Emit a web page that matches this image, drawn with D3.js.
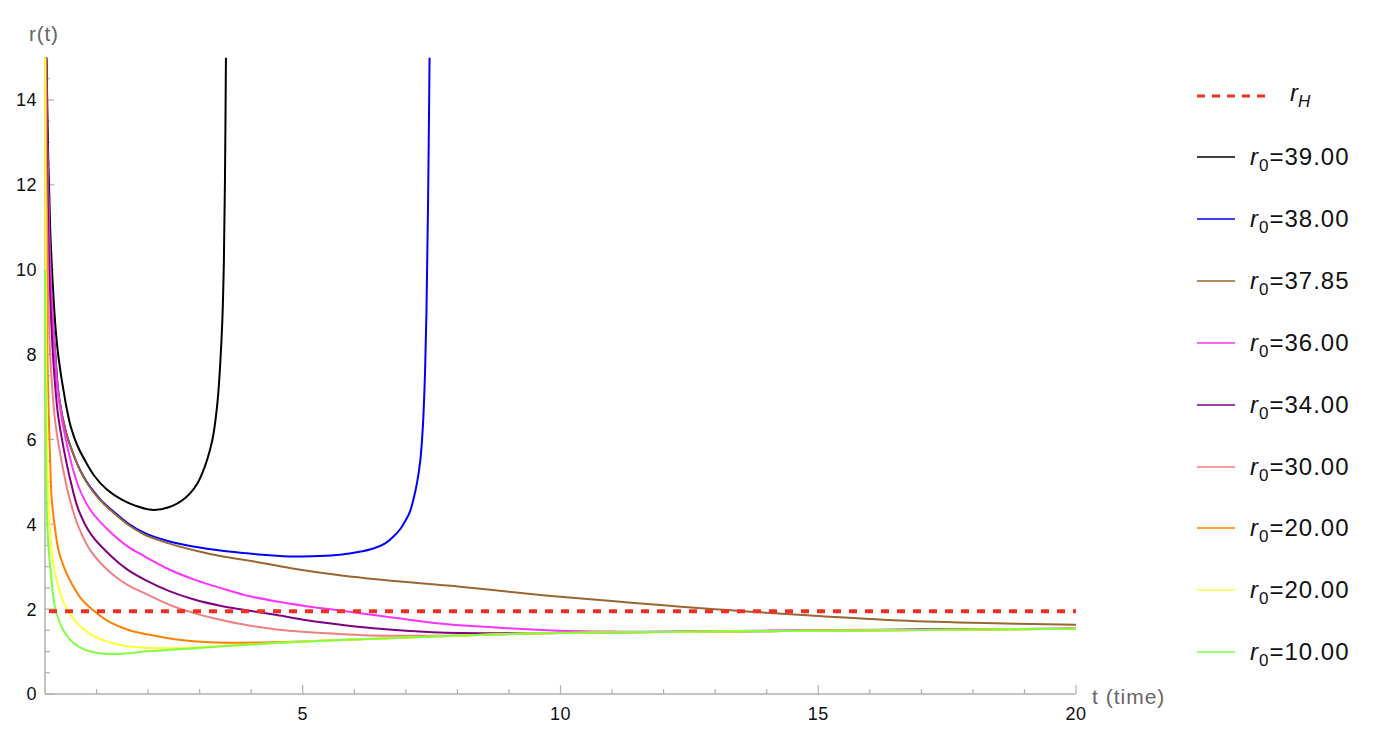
<!DOCTYPE html>
<html>
<head>
<meta charset="utf-8">
<script src="https://cdn.jsdelivr.net/npm/d3@7"></script>
<style>
  body { margin: 0; background: #fff; }
  text { font-family: "Liberation Sans", Arial, sans-serif; }
</style>
</head>
<body>
<div id="chart"></div>
<script>
// tick values
var tTicks = [5, 10, 15, 20];
var rTicks = [0, 2, 4, 6, 8, 10, 12, 14];
var rH = 1.95;

// each series: [t, r]
var tr39 = [[0.03,15],[0.06,12.8],[0.1,11.0],[0.14,9.9],[0.2,8.7],[0.26,7.95],[0.39,6.93],[0.5,6.3],[0.63,5.85],[0.8,5.45],[0.97,5.12],[1.2,4.82],[1.49,4.58],[1.75,4.44],[2.07,4.34],[2.4,4.4],[2.72,4.62],[2.95,4.95],[3.1,5.36],[3.2,5.75],[3.27,6.14],[3.35,6.93],[3.4,7.8],[3.44,8.8],[3.47,10.2],[3.49,12],[3.51,15]];
var tr38 = [[0.02,15],[0.05,12.6],[0.09,10.6],[0.14,9.1],[0.2,8.0],[0.27,7.0],[0.4,6.2],[0.52,5.75],[0.65,5.36],[0.8,5.02],[0.94,4.78],[1.1,4.55],[1.29,4.34],[1.6,4.03],[1.94,3.79],[2.4,3.6],[2.91,3.47],[3.4,3.38],[3.88,3.32],[4.35,3.27],[4.82,3.24],[5.3,3.25],[5.72,3.28],[6.1,3.35],[6.37,3.43],[6.6,3.55],[6.76,3.71],[6.9,3.9],[7.0,4.1],[7.08,4.3],[7.15,4.6],[7.22,5.0],[7.28,5.5],[7.33,6.3],[7.37,7.5],[7.4,9],[7.43,11.5],[7.46,15]];
var tr3785 = [[0.02,15],[0.05,12.6],[0.09,10.6],[0.14,9.1],[0.2,8.0],[0.27,7.0],[0.4,6.2],[0.52,5.75],[0.65,5.35],[0.8,5.0],[0.94,4.76],[1.1,4.53],[1.29,4.31],[1.6,4.0],[1.94,3.75],[2.4,3.55],[2.91,3.38],[3.4,3.25],[3.88,3.16],[4.8,2.96],[5.72,2.8],[6.89,2.65],[7.66,2.57],[8.05,2.53],[9,2.41],[10,2.29],[11,2.19],[12,2.09],[13,2.0],[13.68,1.94],[15,1.84],[16.46,1.74],[18,1.68],[20,1.63]];
var tr36 = [[0.02,15],[0.05,12.3],[0.1,10],[0.15,8.8],[0.19,8],[0.26,7.0],[0.42,5.9],[0.65,4.89],[0.9,4.3],[1.29,3.79],[1.6,3.48],[1.94,3.24],[2.4,2.94],[2.91,2.69],[3.4,2.5],[3.88,2.33],[4.5,2.18],[5.08,2.07],[5.9,1.94],[6.89,1.78],[7.66,1.66],[8.96,1.55],[9.93,1.49],[11,1.47],[12.5,1.48],[14.7,1.5],[17,1.52],[20,1.54]];
var tr34 = [[0.015,15],[0.04,12.5],[0.08,10],[0.12,8.8],[0.17,7.7],[0.25,6.6],[0.36,5.8],[0.5,5.0],[0.65,4.34],[0.9,3.75],[1.29,3.24],[1.6,2.93],[1.94,2.69],[2.4,2.43],[2.91,2.22],[3.4,2.08],[3.88,1.98],[4.5,1.86],[5.08,1.74],[5.7,1.64],[6.37,1.55],[7.0,1.49],[7.66,1.45],[9,1.43],[10,1.44],[12,1.46],[14.7,1.49],[17,1.52],[20,1.54]];
var tr30 = [[0.012,15],[0.03,12],[0.06,9.6],[0.1,8.0],[0.13,7.4],[0.19,6.5],[0.26,5.9],[0.4,5.0],[0.5,4.5],[0.65,3.94],[0.9,3.35],[1.29,2.84],[1.6,2.57],[1.94,2.37],[2.46,2.08],[2.91,1.9],[3.4,1.75],[3.88,1.63],[4.5,1.52],[5.08,1.46],[5.8,1.41],[6.37,1.38],[7.2,1.37],[8.05,1.38],[9,1.41],[10,1.44],[12,1.46],[14.7,1.49],[17,1.51],[20,1.54]];
var tr20a = [[0.006,15],[0.02,11.5],[0.04,8.5],[0.065,6.9],[0.1,5.5],[0.13,4.6],[0.2,3.85],[0.26,3.4],[0.38,2.95],[0.52,2.6],[0.7,2.25],[0.97,1.94],[1.25,1.7],[1.62,1.51],[2.0,1.4],[2.59,1.28],[3.2,1.22],[3.88,1.21],[4.8,1.23],[5.72,1.27],[6.8,1.32],[8.05,1.38],[10,1.44],[12,1.46],[14.7,1.49],[17,1.51],[20,1.54]];
var tr20b = [[0.003,15],[0.012,10.5],[0.025,7.6],[0.05,5.36],[0.1,3.79],[0.17,3.0],[0.26,2.53],[0.38,2.1],[0.52,1.82],[0.7,1.58],[0.97,1.35],[1.3,1.2],[1.62,1.12],[2.26,1.08],[2.8,1.09],[3.23,1.12],[3.88,1.16],[4.43,1.2],[5.72,1.27],[6.8,1.32],[8.05,1.38],[10,1.44],[12,1.46],[14.7,1.49],[17,1.51],[20,1.54]];
var tr10 = [[0,10],[0.008,7.8],[0.018,5.8],[0.03,4.6],[0.06,3.6],[0.1,3.0],[0.19,2.06],[0.28,1.7],[0.39,1.43],[0.55,1.2],[0.78,1.04],[1.0,0.97],[1.29,0.94],[1.6,0.96],[1.94,1.0],[2.4,1.04],[2.91,1.08],[3.88,1.16],[4.8,1.22],[5.72,1.27],[6.8,1.32],[8.05,1.38],[10,1.44],[12,1.46],[14.7,1.49],[17,1.51],[20,1.54]];

var r0Labels = ["39.00", "38.00", "37.85", "36.00", "34.00", "30.00", "20.00", "20.00", "10.00"];
var colors = ["#000000", "#0000ff", "#996633", "#ff33ff", "#800080", "#f08080", "#ff8000", "#ffff33", "#80ff40"];
var seriesData = [tr39, tr38, tr3785, tr36, tr34, tr30, tr20a, tr20b, tr10];

// dimensions
var svgW = 1380, svgH = 730;
var margin = {top: 57.5, left: 45};
var width = 1031, height = 636.5;

var x = d3.scaleLinear().domain([0, 20]).range([0, width]);
var y = d3.scaleLinear().domain([0, 15]).range([height, 0]);

var svg = d3.select("#chart").append("svg")
  .attr("width", svgW)
  .attr("height", svgH);

var g = svg.append("g")
  .attr("transform", "translate(" + margin.left + "," + margin.top + ")");

g.append("clipPath").attr("id", "clip")
  .append("rect")
  .attr("x", -1).attr("y", 0)
  .attr("width", width + 2).attr("height", height);

var axisColor = "#b0b0b0";

// minor ticks
var xMinor = d3.range(1, 21).filter(function(d) { return d % 5 !== 0; });
var yMinor = d3.range(0.5, 15, 0.5).filter(function(d) { return d % 2 !== 0; });

g.selectAll(".xminor").data(xMinor).enter().append("line")
  .attr("x1", function(d) { return x(d); }).attr("x2", function(d) { return x(d); })
  .attr("y1", height).attr("y2", height - 5)
  .attr("stroke", axisColor).attr("stroke-width", 1.2);
g.selectAll(".xmajor").data(tTicks).enter().append("line")
  .attr("x1", function(d) { return x(d); }).attr("x2", function(d) { return x(d); })
  .attr("y1", height).attr("y2", height - 9)
  .attr("stroke", axisColor).attr("stroke-width", 1.2);
g.selectAll(".yminor").data(yMinor).enter().append("line")
  .attr("y1", function(d) { return y(d); }).attr("y2", function(d) { return y(d); })
  .attr("x1", 0).attr("x2", 5)
  .attr("stroke", axisColor).attr("stroke-width", 1.2);
g.selectAll(".ymajor").data(rTicks).enter().append("line")
  .attr("y1", function(d) { return y(d); }).attr("y2", function(d) { return y(d); })
  .attr("x1", 0).attr("x2", 9)
  .attr("stroke", axisColor).attr("stroke-width", 1.2);

// axis lines
g.append("line").attr("x1", 0).attr("x2", width).attr("y1", height).attr("y2", height)
  .attr("stroke", axisColor).attr("stroke-width", 1.5);
g.append("line").attr("x1", 0).attr("x2", 0).attr("y1", 0).attr("y2", height)
  .attr("stroke", axisColor).attr("stroke-width", 1.5);

// tick labels
g.selectAll(".xlab").data(tTicks).enter().append("text")
  .attr("x", function(d) { return x(d); })
  .attr("y", height + 26)
  .attr("text-anchor", "middle")
  .style("font-size", "18px")
  .style("letter-spacing", "0.5px")
  .attr("fill", "#111")
  .text(function(d) { return d; });
g.selectAll(".ylab").data(rTicks).enter().append("text")
  .attr("x", -8)
  .attr("y", function(d) { return y(d); })
  .attr("dy", "0.36em")
  .attr("text-anchor", "end")
  .style("font-size", "18px")
  .style("letter-spacing", "0.5px")
  .attr("fill", "#111")
  .text(function(d) { return d; });

// axis titles
svg.append("text")
  .attr("x", 1092).attr("y", 704)
  .style("font-size", "21px")
  .style("letter-spacing", "1px")
  .attr("fill", "#666")
  .text("t (time)");
svg.append("text")
  .attr("x", 29).attr("y", 41)
  .style("font-size", "21px")
  .style("letter-spacing", "0.7px")
  .attr("fill", "#666")
  .text("r(t)");

// curves
var line = d3.line()
  .x(function(d) { return x(d[0]); })
  .y(function(d) { return y(d[1]); })
  .curve(d3.curveCatmullRom.alpha(0.5));

var plot = g.append("g").attr("clip-path", "url(#clip)");

seriesData.forEach(function(s, i) {
  plot.append("path")
    .datum(s)
    .attr("fill", "none")
    .attr("stroke", colors[i])
    .attr("stroke-width", 2)
    .attr("d", line);
});

// horizon line
plot.append("line")
  .attr("x1", x(0)).attr("x2", x(20))
  .attr("y1", y(rH)).attr("y2", y(rH))
  .attr("stroke", "#ee3124")
  .attr("stroke-width", 4)
  .attr("stroke-dasharray", "8,8")
  .attr("stroke-dashoffset", -4);

// legend
var legend = svg.append("g");
var legX1 = 1197, legX2 = 1235, legText = 1250;

legend.append("line")
  .attr("x1", legX1).attr("x2", 1270).attr("y1", 96).attr("y2", 96)
  .attr("stroke", "#ee3124").attr("stroke-width", 3)
  .attr("stroke-dasharray", "8,7");
var th = legend.append("text").attr("x", 1290).attr("y", 101).style("font-size", "24px").attr("fill", "#111");
th.append("tspan").style("font-style", "italic").text("r");
th.append("tspan").attr("dy", 6).style("font-size", "17px").style("font-style", "italic").text("H");

var legY = [157, 219, 281, 343, 405, 467, 528, 590, 652];

r0Labels.forEach(function(lab, i) {
  legend.append("line")
    .attr("x1", legX1).attr("x2", legX2)
    .attr("y1", legY[i]).attr("y2", legY[i])
    .attr("stroke", colors[i]).attr("stroke-width", 1.5);
  var t = legend.append("text")
    .attr("x", legText).attr("y", legY[i] + 8)
    .style("font-size", "24px")
    .style("letter-spacing", "1px")
    .attr("fill", "#111");
  t.append("tspan").style("font-style", "italic").text("r");
  t.append("tspan").attr("dy", 6).style("font-size", "17px").text("0");
  t.append("tspan").attr("dy", -6).text("=" + lab);
});
</script>
</body>
</html>
